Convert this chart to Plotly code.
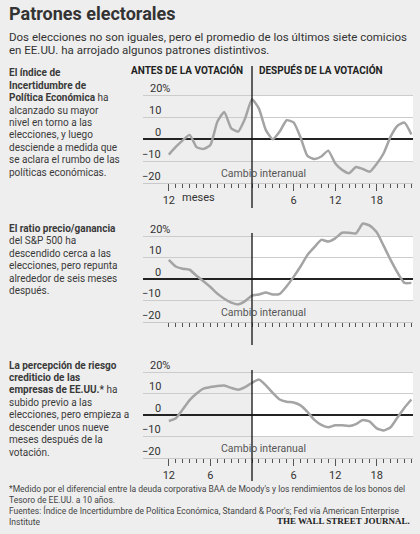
import plotly.graph_objects as go

# ---------------- data ----------------
months = list(range(-12, 24))
epu = [-7, -3.5, -0.5, 2, -3.6, -4.4, -2.6, 8, 12.5, 5, 3.5, 9.5, 18.3, 14, 4.2, 0, 3.5, 8.7, 7.7, 0.9, -7.6, -9, -7.9, -5.2,
       -11, -14, -15.5, -12.7, -13.6, -14.8, -11.2, -6.4, 1.2, 6.2, 7.6, 2.2]
pe = [8.9, 5.8, 4.8, 4.3, 1.5, -1, -3.7, -6.8, -9.2, -11, -11.8, -10.3, -7.7, -7.2, -6.3, -7.2, -6.9, -3.4, 1, 5.8, 11.2,
      14.8, 18.2, 17.4, 18.9, 21.5, 21.5, 21.2, 25.8, 24.8, 21.7, 15.4, 8.9, 3, -1.8, -1.8]
risk = [-2.8, -1.5, 2.6, 6.9, 10, 12.3, 13, 13.5, 13.7, 12.6, 11.8, 13, 15, 16.5, 13.8, 10.3, 7.2, 6.2, 5.8, 4.5, 1.5, -2.3,
        -4.6, -5.7, -4.8, -4.8, -5.1, -4.2, -2.3, -3.1, -6.2, -7.2, -5.7, -1.1, 3.4, 7.2]
series = [epu, pe, risk]

title = "Patrones electorales"
subtitle = ["Dos elecciones no son iguales, pero el promedio de los últimos siete comicios",
            "en EE.UU. ha arrojado algunos patrones distintivos."]
header_before = "ANTES DE LA VOTACIÓN"
header_after = "DESPUÉS DE LA VOTACIÓN"
y_ticks = [-20, -10, 0, 10, 20]
y_ticklabels = ["−20", "−10", "0", "10", "20%"]
x_major = [-12, -6, 0, 6, 12, 18]
x_ticktexts = [["12", "", "", "6", "12", "18"],
               ["", "", "", "", "", ""],
               ["12", "6", "", "6", "12", "18"]]
months_word = "meses"
note_text = "Cambio interanual"
blurbs = [
    ["<b>El índice de</b>", "<b>Incertidumbre de</b>", "<b>Política Económica</b> ha", "alcanzado su mayor",
     "nivel en torno a las", "elecciones, y luego", "desciende a medida que", "se aclara el rumbo de las",
     "políticas económicas."],
    ["<b>El ratio precio/ganancia</b>", "del S&P 500 ha", "descendido cerca a las", "elecciones, pero repunta",
     "alrededor de seis meses", "después."],
    ["<b>La percepción de riesgo</b>", "<b>crediticio de las</b>", "<b>empresas de EE.UU.*</b> ha",
     "subido previo a las", "elecciones, pero empieza a", "descender unos nueve", "meses después de la",
     "votación."],
]
footnotes = ["*Medido por el diferencial entre la deuda corporativa BAA de Moody's y los rendimientos de los bonos del",
             "Tesoro de EE.UU. a 10 años.",
             "Fuentes: Índice de Incertidumbre de Política Económica, Standard & Poor's; Fed vía American Enterprise",
             "Institute"]
credit = "THE WALL STREET JOURNAL."

# ---------------- layout geometry ----------------
W, H = 420, 534
BG = "#eeeeee"
FONT = "Roboto, 'Liberation Sans', sans-serif"
TXT = "#333333"
PPM = 6.93          # pixels per month
X0, XL, XR = 252, 143, 413
xrange_ = [(XL - X0) / PPM, (XR - X0) / PPM]
xdomain = [XL / W, XR / W]
YTOP = 28
panel_px = [(183, 95.5), (322, 236), (458, 372)]       # pixel of -20 and of 20
vline_px = [(66, 208), (233, 345), (370, 481)]
blurb_top = [72.7, 228.3, 365]
LINE_H = 12.45


def py(p):
    return 1 - p / H


fig = go.Figure()
shapes = []
annotations = []

for i, s in enumerate(series):
    n = "" if i == 0 else str(i + 1)
    xa, ya = "x" + n, "y" + n
    pm20, p20 = panel_px[i]
    scale = (pm20 - p20) / 40
    top = pm20 - (YTOP + 20) * scale
    fig.add_trace(go.Scatter(x=months, y=s, mode="lines", xaxis=xa, yaxis=ya,
                             line=dict(color="#a4a4a4", width=2.5, shape="spline", smoothing=0.5),
                             hoverinfo="skip", showlegend=False))
    fig.layout["xaxis" + n] = dict(
        domain=xdomain, range=xrange_, anchor=ya, showgrid=False, zeroline=False,
        showline=True, linecolor="#c8c8c8", linewidth=1,
        ticks="outside", tickvals=x_major, ticktext=x_ticktexts[i], ticklen=7, tickwidth=1,
        tickcolor="#555555", tickfont=dict(size=11, color=TXT, family=FONT),
        minor=dict(tickvals=months, ticks="outside", ticklen=4, tickwidth=1, tickcolor="#555555", showgrid=False),
        fixedrange=True)
    fig.layout["yaxis" + n] = dict(
        domain=[py(pm20), py(top)], range=[-20, YTOP], anchor=xa, tickvals=y_ticks,
        showticklabels=False, showgrid=True, gridcolor="#cccccc", gridwidth=1,
        zeroline=True, zerolinecolor="#222222", zerolinewidth=1.5, ticks="", showline=False,
        fixedrange=True)
    # white "after" region
    shapes.append(dict(type="rect", xref=xa, yref=ya, x0=0, x1=xrange_[1], y0=-10, y1=20,
                       fillcolor="white", line=dict(width=0), layer="below"))
    # vote line
    vt, vb = vline_px[i]
    shapes.append(dict(type="line", xref=xa, yref="paper", x0=0, x1=0, y0=py(vb), y1=py(vt),
                       line=dict(color="#111111", width=1.3), layer="above"))
    # y tick labels
    for v, lab in zip(y_ticks, y_ticklabels):
        annotations.append(dict(x=163 / W, xref="paper", y=v, yref=ya, text=lab, showarrow=False,
                                xanchor="right", yanchor="middle", yshift=7,
                                xshift=9 if lab.endswith("%") else 0,
                                font=dict(size=11, color=TXT, family=FONT)))
    # note
    annotations.append(dict(x=1.7, xref=xa, y=-15.5, yref=ya, text=note_text, showarrow=False,
                            xanchor="center", yanchor="middle",
                            font=dict(size=10.5, color="#555555", family=FONT)))
    # blurb
    for j, line in enumerate(blurbs[i]):
        annotations.append(dict(x=7 / W, xref="paper", y=py(blurb_top[i] + j * LINE_H), yref="paper",
                                text=line, showarrow=False, xanchor="left", yanchor="middle",
                                font=dict(size=10, color="#3a3a3a", family=FONT)))

# "meses" label on first panel
annotations.append(dict(x=-7.65, xref="x", y=py(197.5), yref="paper", text=months_word, showarrow=False,
                        xanchor="center", yanchor="middle", font=dict(size=11, color=TXT, family=FONT)))
# headers
annotations.append(dict(x=245 / W, xref="paper", y=py(70), yref="paper", text="<b>" + header_before + "</b>",
                        showarrow=False, xanchor="right", yanchor="middle",
                        font=dict(size=10, color="#222222", family=FONT)))
annotations.append(dict(x=257 / W, xref="paper", y=py(70), yref="paper", text="<b>" + header_after + "</b>",
                        showarrow=False, xanchor="left", yanchor="middle",
                        font=dict(size=10, color="#222222", family=FONT)))
# title & subtitle
annotations.append(dict(x=7 / W, xref="paper", y=py(14), yref="paper", text="<b>" + title + "</b>",
                        showarrow=False, xanchor="left", yanchor="middle",
                        font=dict(size=18, color="#333333", family=FONT)))
for j, line in enumerate(subtitle):
    annotations.append(dict(x=7 / W, xref="paper", y=py(36.5 + j * 13.5), yref="paper", text=line,
                            showarrow=False, xanchor="left", yanchor="middle",
                            font=dict(size=11.5, color="#333333", family=FONT)))
# footnotes
for j, line in enumerate(footnotes):
    annotations.append(dict(x=7 / W, xref="paper", y=py(488.5 + j * 11), yref="paper", text=line,
                            showarrow=False, xanchor="left", yanchor="middle",
                            font=dict(size=8.5, color="#444444", family=FONT)))
annotations.append(dict(x=412 / W, xref="paper", y=py(521), yref="paper", text="<b>" + credit + "</b>",
                        showarrow=False, xanchor="right", yanchor="middle",
                        font=dict(size=9, color="#222222", family="'Liberation Serif', 'DejaVu Serif', serif")))

fig.update_layout(width=W, height=H, margin=dict(l=0, r=0, t=0, b=0, pad=0),
                  paper_bgcolor=BG, plot_bgcolor="rgba(0,0,0,0)",
                  shapes=shapes, annotations=annotations, showlegend=False,
                  font=dict(family=FONT, color=TXT))
fig.write_html("out.html", config={"displayModeBar": False})
